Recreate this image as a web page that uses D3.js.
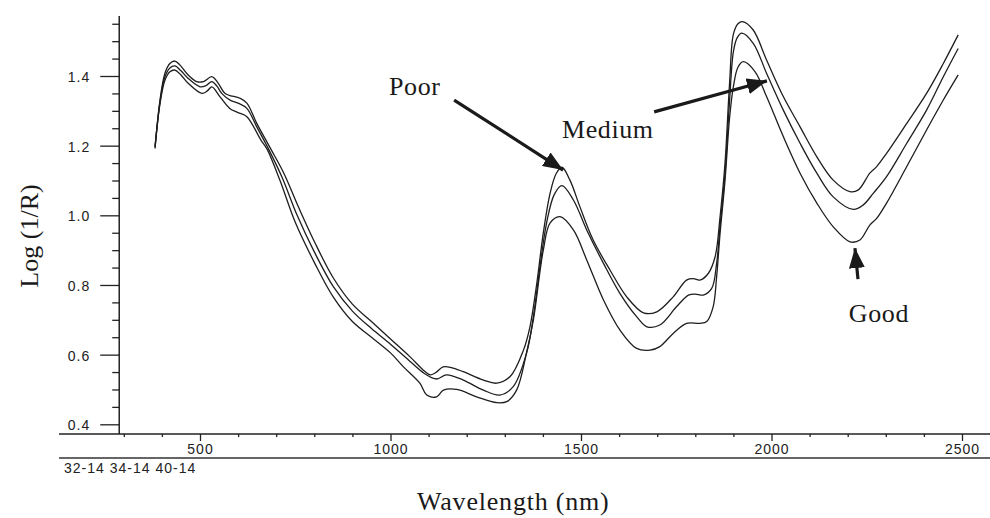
<!DOCTYPE html>
<html>
<head>
<meta charset="utf-8">
<script src="https://cdn.jsdelivr.net/npm/d3@7"></script>
<style>
  html, body { margin: 0; padding: 0; background: #fff; }
  svg { display: block; }
  .tick text { font-family: 'Liberation Sans', Arial, sans-serif; font-size: 14px; letter-spacing: 1px; fill: #222; }
  .tick line { stroke: #222; stroke-width: 1.3; }
  .serif { font-family: 'Liberation Serif', 'Times New Roman', serif; fill: #1a1a1a; }
</style>
</head>
<body>
<svg id="chart" width="990" height="518"></svg>
<script>
// spectra: [wavelength nm, log(1/R)]
const poor = [
  [382, 1.192], [395, 1.331], [408, 1.408], [421, 1.436], [434, 1.443], [447, 1.432], [469, 1.403],
  [491, 1.384], [509, 1.384], [531, 1.398], [548, 1.379], [566, 1.35], [605, 1.336], [623, 1.322],
  [649, 1.264], [686, 1.19], [720, 1.121], [760, 1.02], [800, 0.925], [850, 0.82], [900, 0.745],
  [950, 0.695], [1000, 0.645], [1050, 0.595], [1090, 0.552], [1104, 0.542], [1118, 0.548],
  [1138, 0.565], [1160, 0.563], [1191, 0.551], [1244, 0.527], [1279, 0.518], [1314, 0.537],
  [1349, 0.613], [1366, 0.68], [1384, 0.805], [1401, 0.949], [1419, 1.064], [1435, 1.12],
  [1450, 1.138], [1471, 1.101], [1497, 1.025], [1532, 0.929], [1576, 0.843], [1620, 0.766],
  [1664, 0.72], [1699, 0.723], [1742, 0.766], [1777, 0.814], [1795, 0.818], [1812, 0.814],
  [1834, 0.833], [1852, 0.881], [1865, 0.996], [1878, 1.15], [1890, 1.38], [1900, 1.52],
  [1912, 1.55], [1924, 1.556], [1952, 1.532], [1987, 1.446], [2031, 1.341], [2075, 1.254],
  [2119, 1.168], [2162, 1.101], [2206, 1.068], [2228, 1.073], [2258, 1.121], [2276, 1.14],
  [2302, 1.178], [2355, 1.264], [2407, 1.35], [2451, 1.436], [2490, 1.518]
];
const medium = [
  [382, 1.195], [395, 1.325], [408, 1.398], [421, 1.423], [434, 1.429], [450, 1.415], [469, 1.393],
  [500, 1.369], [515, 1.372], [531, 1.384], [545, 1.37], [557, 1.35], [580, 1.33], [600, 1.322],
  [623, 1.307], [649, 1.254], [680, 1.19], [715, 1.11], [755, 1.0], [800, 0.895], [850, 0.795],
  [900, 0.725], [950, 0.675], [1000, 0.63], [1050, 0.582], [1090, 0.545], [1121, 0.53],
  [1147, 0.542], [1191, 0.527], [1244, 0.498], [1287, 0.484], [1322, 0.508], [1357, 0.604],
  [1375, 0.709], [1392, 0.85], [1410, 0.98], [1430, 1.06], [1450, 1.085], [1480, 1.044],
  [1515, 0.958], [1559, 0.862], [1602, 0.776], [1646, 0.709], [1673, 0.68], [1707, 0.685],
  [1751, 0.738], [1782, 0.771], [1800, 0.774], [1821, 0.771], [1843, 0.79], [1856, 0.862],
  [1865, 0.97], [1878, 1.12], [1890, 1.33], [1900, 1.47], [1910, 1.51], [1922, 1.523],
  [1952, 1.494], [1987, 1.408], [2031, 1.302], [2075, 1.207], [2119, 1.121], [2162, 1.053],
  [2215, 1.017], [2241, 1.03], [2267, 1.063], [2302, 1.111], [2355, 1.207], [2407, 1.302],
  [2451, 1.398], [2490, 1.479]
];
const good = [
  [382, 1.198], [395, 1.32], [408, 1.388], [421, 1.412], [434, 1.417], [450, 1.403], [469, 1.379],
  [505, 1.35], [520, 1.358], [531, 1.369], [552, 1.341], [578, 1.307], [600, 1.295], [623, 1.283],
  [660, 1.216], [676, 1.19], [710, 1.1], [750, 0.98], [800, 0.865], [850, 0.765], [900, 0.695],
  [950, 0.65], [1000, 0.605], [1034, 0.565], [1077, 0.518], [1095, 0.484], [1121, 0.479],
  [1139, 0.498], [1174, 0.5], [1226, 0.479], [1279, 0.462], [1305, 0.465], [1331, 0.498],
  [1357, 0.605], [1375, 0.7], [1401, 0.9], [1419, 0.978], [1445, 0.996], [1480, 0.958],
  [1515, 0.872], [1559, 0.757], [1602, 0.671], [1646, 0.618], [1681, 0.613], [1707, 0.623],
  [1742, 0.661], [1777, 0.69], [1812, 0.69], [1830, 0.695], [1847, 0.738], [1856, 0.824],
  [1865, 0.948], [1878, 1.1], [1890, 1.28], [1900, 1.37], [1912, 1.425], [1926, 1.441],
  [1957, 1.412], [1987, 1.341], [2031, 1.226], [2075, 1.121], [2119, 1.035], [2162, 0.967],
  [2206, 0.924], [2232, 0.929], [2258, 0.972], [2276, 0.991], [2302, 1.035], [2355, 1.14],
  [2407, 1.245], [2451, 1.331], [2490, 1.403]
];

const yTicks = [0.4, 0.6, 0.8, 1.0, 1.2, 1.4];
const xTicks = [500, 1000, 1500, 2000, 2500];
const sampleLabels = ['32-14', '34-14', '40-14'];

// label text + arrow tail/tip, in data units
const notes = [
  { label: 'Poor', text: [996, 1.345], tail: [1167, 1.331], tip: [1453, 1.13] },
  { label: 'Medium', text: [1450, 1.222], tail: [1692, 1.297], tip: [1988, 1.386] },
  { label: 'Good', text: [2203, 0.694], tail: [2227, 0.817], tip: [2219, 0.906] },
];

const svg = d3.select('#chart');

const x = d3.scaleLinear().domain([500, 2500]).range([200, 962]);
const y = d3.scaleLinear().domain([0.4, 1.4]).range([424.3, 76]);

const axisY = 434;
const axisX = x(288);

// y axis
svg.append('line')
  .attr('x1', axisX).attr('x2', axisX)
  .attr('y1', y(1.572)).attr('y2', axisY)
  .attr('stroke', '#222').attr('stroke-width', 1.5);

svg.append('g')
  .attr('transform', `translate(${axisX},0)`)
  .call(d3.axisLeft(y).tickValues(d3.range(0.45, 1.56, 0.05).filter((v) => Math.abs(v * 5 - Math.round(v * 5)) > 0.01)).tickSize(7).tickFormat(''))
  .call((g) => g.select('.domain').remove());

svg.append('g')
  .attr('transform', `translate(${axisX},0)`)
  .call(d3.axisLeft(y).tickValues(yTicks).tickSize(19).tickPadding(10).tickFormat(d3.format('.1f')))
  .call((g) => g.select('.domain').remove())
  .call((g) => g.selectAll('text').attr('dy', '0.4em'));

// x axis
svg.append('line')
  .attr('x1', x(130)).attr('x2', 990)
  .attr('y1', axisY).attr('y2', axisY)
  .attr('stroke', '#222').attr('stroke-width', 1.5);

svg.append('g')
  .attr('transform', `translate(0,${axisY})`)
  .call(d3.axisBottom(x).tickValues(d3.range(300, 2700, 100).filter((v) => v % 500 !== 0)).tickSize(3).tickFormat(''))
  .call((g) => g.select('.domain').remove());

svg.append('g')
  .attr('transform', `translate(0,${axisY})`)
  .call(d3.axisBottom(x).tickValues(xTicks).tickSize(7).tickPadding(3).tickFormat(d3.format('d')))
  .call((g) => g.select('.domain').remove());

svg.append('line')
  .attr('x1', x(130)).attr('x2', 990)
  .attr('y1', 458).attr('y2', 458)
  .attr('stroke', '#333').attr('stroke-width', 1.4);

svg.append('text')
  .attr('x', 64).attr('y', 473)
  .style('font-family', "'Liberation Sans', Arial, sans-serif")
  .style('font-size', '14px')
  .style('letter-spacing', '1px')
  .attr('fill', '#222')
  .text(sampleLabels.join(' '));

// axis titles
svg.append('text')
  .attr('class', 'serif')
  .attr('x', 417).attr('y', 510)
  .style('font-size', '26px')
  .style('letter-spacing', '0.8px')
  .text('Wavelength (nm)');

svg.append('text')
  .attr('class', 'serif')
  .attr('transform', 'translate(38,236) rotate(-90)')
  .attr('text-anchor', 'middle')
  .style('font-size', '26px')
  .text('Log (1/R)');

// spectra
const line = d3.line()
  .x((d) => x(d[0]))
  .y((d) => y(d[1]))
  .curve(d3.curveCatmullRom.alpha(0.5));

svg.selectAll('.spectrum')
  .data([poor, medium, good])
  .enter()
  .append('path')
  .attr('class', 'spectrum')
  .attr('d', line)
  .attr('fill', 'none')
  .attr('stroke', '#1e1e1e')
  .attr('stroke-width', 1.3);

// arrows
svg.append('defs')
  .append('marker')
  .attr('id', 'head')
  .attr('markerUnits', 'userSpaceOnUse')
  .attr('viewBox', '0 0 20 16')
  .attr('refX', 20).attr('refY', 8)
  .attr('markerWidth', 20).attr('markerHeight', 16)
  .attr('orient', 'auto')
  .append('path')
  .attr('d', 'M0,0 L20,8 L0,16 Z')
  .attr('fill', '#1a1a1a');

const note = svg.selectAll('.note').data(notes).enter().append('g').attr('class', 'note');

note.append('line')
  .attr('x1', (d) => x(d.tail[0])).attr('y1', (d) => y(d.tail[1]))
  .attr('x2', (d) => x(d.tip[0])).attr('y2', (d) => y(d.tip[1]))
  .attr('stroke', '#1a1a1a')
  .attr('stroke-width', 3.2)
  .attr('marker-end', 'url(#head)');

note.append('text')
  .attr('class', 'serif')
  .attr('x', (d) => x(d.text[0])).attr('y', (d) => y(d.text[1]))
  .style('font-size', '26px')
  .style('letter-spacing', '0.6px')
  .text((d) => d.label);
</script>
</body>
</html>
